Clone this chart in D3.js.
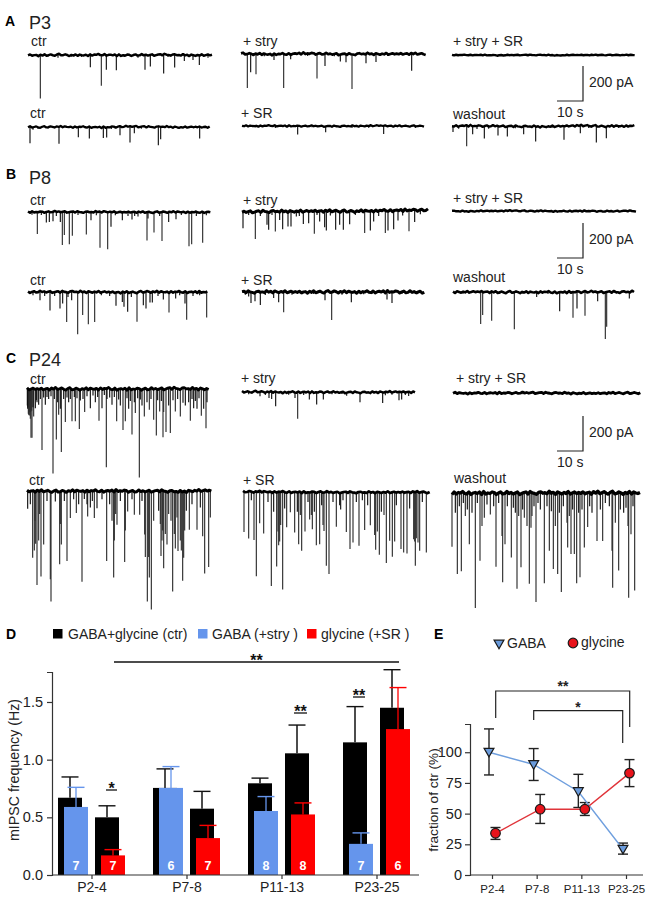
<!DOCTYPE html>
<html><head><meta charset="utf-8">
<script src="https://cdn.jsdelivr.net/npm/d3@7"></script>
<style>
html,body{margin:0;padding:0;background:#fff}
svg{display:block}
text{font-family:"Liberation Sans",Arial,sans-serif;fill:#222}
</style></head><body><svg id="fig" width="652" height="920"></svg>
<script>
// ---------- Panel D data ----------
const groups = ["P2-4","P7-8","P11-13","P23-25"];
const ctrStryMean = [0.67,0.755,0.795,1.15];
const ctrStryTop  = [0.85,0.92,0.84,1.46];
const stryMean    = [0.59,0.755,0.555,0.27];
const stryTop     = [0.76,0.94,0.68,0.365];
const ctrSrMean   = [0.50,0.575,1.055,1.45];
const ctrSrTop    = [0.60,0.725,1.30,1.78];
const srMean      = [0.17,0.32,0.525,1.265];
const srTop       = [0.22,0.43,0.625,1.625];
const stryN       = [7,6,8,7];
const srN         = [7,7,8,6];
// ---------- Panel E data ----------
const gabaFrac    = [100,90,68,21];
const gabaHi      = [119,103,82,26];
const gabaLo      = [81.5,77,55,17];
const glyFrac     = [34,53.6,53.6,83];
const glyHi       = [38.7,65.6,59,94];
const glyLo       = [29,42,48.5,72];
// ---------- Trace readings: [time, amplitude] in digitised chart readings ----------
const SECONDS_PER_READING = 10/78, PA_PER_READING = 200/106;
const A1=[[37,132],[187,37],[220,93],[235,45],[265,46],[351,45],[367,35],[407,56],[440,38],[469,18],[514,30],[90,8],[160,6],[330,8],[495,15],[540,8],[60,5],[130,5],[290,6],[420,6]];
const A2=[[6,49],[93,51],[151,31],[184,35],[226,33],[236,32],[276,25],[306,47],[319,19],[391,55],[398,37],[515,35],[30,6],[250,6],[450,5],[15,8],[60,5],[340,5]];
const A3=[[19,103],[29,55],[45,61],[128,103],[228,74],[252,36],[298,23],[315,25],[333,106],[375,28],[405,24],[512,51],[99,18],[149,16],[70,7],[200,6],[280,7],[440,6]];
const A4=[[167,26],[251,19],[425,24],[100,6],[330,6],[520,6],[40,4],[210,4],[380,5],[480,4]];
const A5=[[50,3],[150,3],[320,3],[420,3]];
const A6=[[3,18],[44,61],[62,25],[97,38],[138,29],[166,32],[215,25],[251,47],[336,42],[385,22],[433,50],[463,37],[20,8],[75,9],[110,8],[190,7],[300,6],[410,6],[500,6]];
const B1=[[28,67],[55,32],[64,30],[75,28],[97,30],[103,100],[109,70],[124,98],[133,72],[175,68],[189,25],[216,108],[239,113],[249,45],[283,25],[312,23],[357,86],[378,62],[402,88],[422,30],[444,22],[483,104],[491,98],[524,93],[320,12],[360,20],[12,8],[40,9],[85,12],[150,9],[205,10],[262,10],[300,12],[330,14],[395,12],[460,9],[505,12],[535,10]];
const B2=[[36,25],[66,56],[96,50],[104,35],[116,91],[131,25],[149,128],[164,70],[181,98],[200,91],[264,42],[283,30],[288,45],[299,60],[327,90],[346,40],[354,50],[366,32],[373,32],[406,23],[423,62],[443,20],[476,84],[471,35],[536,77],[15,10],[50,12],[80,12],[120,15],[220,10],[245,12],[310,15],[390,12],[455,10],[495,12],[515,10]];
const B3=[[3,52],[40,85],[75,42],[80,57],[100,62],[113,27],[122,55],[138,47],[147,47],[163,17],[184,39],[200,37],[217,69],[233,32],[248,49],[253,59],[281,57],[293,42],[304,57],[323,40],[368,67],[385,59],[395,32],[430,67],[438,59],[455,55],[468,29],[501,61],[518,33],[20,12],[55,15],[90,12],[172,15],[225,12],[265,14],[340,12],[410,15],[482,14],[535,10]];
const B4=[[27,33],[39,28],[55,39],[95,18],[110,31],[125,61],[249,25],[269,85],[328,31],[435,23],[450,33],[20,14],[180,7],[390,6],[10,8],[70,9],[150,8],[215,6],[300,8],[365,7],[480,6],[525,7]];
const B5=[[60,3],[170,3],[300,3],[380,4],[480,3]];
const B6=[[83,97],[89,70],[116,87],[184,113],[251,15],[320,58],[360,78],[372,50],[396,72],[434,28],[457,142],[461,105],[529,20],[30,5],[140,6],[210,5],[285,6],[490,5]];
const C1=[[2,60],[4,75],[7,80],[10,90],[12,148],[15,148],[5,78],[8,70],[20,83],[25,58],[35,48],[45,185],[55,48],[78,256],[88,153],[95,78],[103,191],[115,100],[135,98],[145,98],[157,121],[173,70],[190,58],[216,96],[225,58],[238,237],[255,48],[269,98],[288,124],[295,98],[315,138],[325,73],[337,268],[352,83],[367,63],[380,93],[388,141],[398,68],[408,146],[417,130],[430,133],[445,68],[460,83],[490,96],[500,58],[523,81],[537,119],[30,40],[65,30],[100,60],[125,40],[160,35],[205,40],[240,30],[280,50],[305,60],[345,50],[360,40],[410,70],[425,50],[475,50],[510,60],[530,60],[1,50],[3,55],[6,65],[9,62],[11,70],[14,66],[18,55],[28,34],[40,30],[50,26],[60,24],[72,22],[82,30],[92,40],[110,30],[120,26],[130,30],[142,24],[150,28],[168,30],[180,22],[198,20],[212,24],[232,18],[248,26],[262,24],[275,32],[300,28],[310,36],[322,40],[332,28],[340,32],[372,30],[392,34],[403,36],[438,34],[452,30],[468,42],[485,40],[495,30],[505,36],[516,28],[540,40]];
const C2=[[2,54],[17,202],[30,285],[42,259],[50,162],[72,335],[70,267],[85,32],[98,222],[103,162],[120,212],[130,82],[148,67],[165,275],[182,77],[202,82],[210,52],[239,212],[260,262],[270,102],[293,215],[302,62],[322,72],[338,72],[353,132],[361,335],[373,359],[367,262],[402,197],[410,234],[420,162],[437,304],[445,174],[453,182],[467,272],[470,202],[487,117],[510,117],[527,137],[533,250],[545,230],[550,80],[22,180],[26,160],[35,150],[100,100],[180,40],[190,50],[255,90],[262,150],[295,120],[355,200],[365,200],[405,150],[407,120],[415,130],[442,130],[460,150],[463,180],[473,120],[10,40],[24,90],[38,70],[60,30],[112,30],[140,25],[155,40],[172,24],[196,30],[225,25],[248,40],[266,70],[280,30],[315,25],[345,30],[380,90],[395,60],[400,100],[425,70],[432,90],[450,80],[478,60],[495,40],[520,50]];
const C3=[[101,43],[167,81],[81,18],[89,21],[202,23],[224,38],[244,23],[354,31],[422,33],[471,25],[479,23],[54,13],[159,18],[314,11],[430,10],[500,12],[20,7],[70,9],[120,7],[140,8],[185,9],[270,7],[300,6],[385,7],[450,8],[490,9]];
const C4=[[3,121],[17,141],[33,145],[40,255],[50,95],[62,126],[85,285],[101,226],[107,161],[119,295],[131,107],[142,61],[155,123],[167,158],[176,178],[186,120],[200,83],[208,113],[220,161],[230,158],[243,118],[250,223],[258,248],[280,105],[293,53],[310,121],[321,173],[330,153],[348,163],[365,115],[382,101],[398,175],[409,190],[423,70],[430,215],[440,148],[448,196],[455,150],[474,173],[482,183],[492,186],[512,143],[517,223],[525,153],[530,178],[550,183],[105,120],[110,150],[205,70],[240,100],[290,40],[395,130],[403,120],[515,150],[520,140],[25,25],[75,30],[92,60],[113,100],[125,50],[163,60],[172,70],[195,30],[214,60],[236,40],[270,30],[300,25],[340,30],[358,25],[374,40],[415,60],[460,40],[500,50],[538,30]];
const C5=[[70,3],[210,4],[380,4],[500,3],[140,3],[300,3],[440,3]];
const C6=[[0,163],[16,245],[28,237],[52,155],[70,348],[84,205],[97,75],[115,65],[132,223],[152,270],[159,155],[178,195],[195,290],[207,225],[217,75],[232,275],[237,105],[252,330],[277,273],[292,175],[304,230],[317,245],[328,300],[347,165],[357,185],[367,185],[374,273],[384,255],[397,165],[407,103],[435,145],[452,145],[482,287],[480,175],[500,235],[530,317],[537,125],[548,295],[10,60],[40,70],[60,60],[90,100],[150,130],[190,60],[225,100],[240,70],[265,50],[310,100],[345,90],[420,60],[445,50],[490,90],[515,60],[528,100],[22,40],[34,30],[46,50],[76,30],[105,35],[125,40],[140,30],[166,40],[184,45],[200,70],[212,50],[246,40],[258,30],[285,40],[298,55],[322,60],[334,40],[352,70],[362,50],[380,60],[390,50],[413,40],[460,30],[472,40],[505,50],[522,45],[543,40]];
const baselineRipple=[1,-2,2,0,-1,3,-2,1,-3,2,0,-2,1,3,-1,-3,2,1,-2,0,3,-1,1,-3,2,-2,0,1,-1,3,-2,2,-1,0,-3,1,2,-2,3,0,-1,1,-2,3,-3,2,0,1,-2,-1,3,0,-2,2,1,-3,1,-1,2,0,-2,3,1,-1,-2,2,-3,0,1,3,-1,-2,1,0,2,-3,1,-1,3,-2,0,2,-1,1,-3,2,0,-2,1,-1];
const rippleGain=[.9,.8,1,.7,.4,.9, .8,1,1.2,1.2,.6,1, 1.3,1.2,.9,.9,.8,1.5];
const traceDurations = [552,545,554,546,548,547,547,538,558,547,552,543,545,553,519,560,562,564];
const traceEvents = [A1,A2,A3,A4,A5,A6,B1,B2,B3,B4,B5,B6,C1,C2,C3,C4,C5,C6];
const traceDrift = [
 [0,1,-1,1,0,-1,1,0,0,-1,0,1,0],[0,0,-1,0,0,1,-1,-2,0,-1,1,0,0],[-1,0,1,0,-2,-1,0,1,-1,0,0,-1,0],
 [0,0,-1,0,0,0,1,0,0,-1,0,0,0],[0,0,0,1,0,0,0,1,0,0,0,0,0],[0,-1,0,0,1,1,2,1,-1,-1,1,0,0],
 [0,0,-1,0,0,-1,1,0,1,0,0,1,0],[0,-1,0,-1,0,0,1,1,-1,0,0,0,0],[2,2,1,1,1,0,0,1,0,-1,-2,-3,-3],
 [0,0,-1,0,0,0,-1,0,0,-1,-1,0,0],[0,1,0,0,-1,0,0,1,0,0,1,0,0],[0,0,-1,1,0,1,0,1,0,-1,0,0,-1],
 [0,0,-1,0,0,-1,0,0,0,-1,-2,-1,0],[0,0,1,0,0,0,-1,1,0,0,2,-1,-1],[0,-1,0,1,0,1,0,1,1,1,0,0,0],
 [-1,-1,0,0,1,0,1,1,1,1,1,0,1],[0,1,0,0,0,-1,0,0,1,1,0,0,0],[0,0,0,0,0,0,-1,0,0,-1,-1,0,0]];
const traceTexts = [
 "ctr","ctr","+ stry","+ SR","+ stry + SR","washout",
 "ctr","ctr","+ stry","+ SR","+ stry + SR","washout",
 "ctr","ctr","+ stry","+ SR","+ stry + SR","washout"];
// ---------- Layout and style (no data) ----------
const traceLeft = [28,28,241,242,452,452, 28,28,242,242,452,453, 27,27,242,243,453,452];
const traceBase = [55,127,54,126,55,126, 212,292,211,292,211,292, 389,491,392,492,393,493];
const traceWidth= [2.5,2.3,2.7,2.3,2.4,2.4, 2.5,2.6,3,3,2.4,2.6, 2.8,3,2.5,2.7,2.8,3.3];
const traceTextX= [31,30,243,241,453,453, 30,30,243,241,453,453, 30,29,241,243,456,454];
const traceTextY= [46,118,46,118,46,119, 205,285,205,285,203,282, 384,485,383,485,383,483];
const ptLabels = [["A",5,26,"P3",29,29],["B",6,179,"P8",29,184],["C",6,363,"P24",29,366]];
const scaleBarY = [66,223,416];
const scaleBarSec = 10, scaleBarPA = 200;

const svg = d3.select("#fig");
const tScale = d3.scaleLinear().domain([0,10]).range([0,26]);
const aScale = d3.scaleLinear().domain([0,200]).range([0,35]);

function txt(g,s,x,y,size,opt={}){
  return g.append("text").attr("x",x).attr("y",y).attr("font-size",size)
    .attr("font-weight",opt.bold?"bold":null).attr("text-anchor",opt.anchor||"start")
    .attr("transform",opt.rot?`rotate(-90 ${x} ${y})`:null).style("fill",opt.fill||null).text(s);
}

// ---------- Traces ----------
const traces = svg.append("g");
traceEvents.forEach((ev,i)=>{
  const g = traces.append("g").attr("transform",`translate(${traceLeft[i]},${traceBase[i]})`);
  const dur = traceDurations[i], drift = traceDrift[i];
  const px = r => tScale(r*SECONDS_PER_READING), py = r => aScale(r*PA_PER_READING);
  g.selectAll("line").data(ev).join("line")
    .attr("x1",d=>px(d[0])).attr("x2",d=>px(d[0]))
    .attr("y1",0).attr("y2",d=>py(d[1]))
    .attr("stroke",d=>d[1]>60?"#2e2e2e":"#111").attr("stroke-width",1.15);
  const driftAt = d3.scaleLinear().domain(drift.map((d,k)=>k*dur/(drift.length-1))).range(drift);
  const pts = baselineRipple.map((r,k)=>{
    const t = k*dur/(baselineRipple.length-1);
    const ripple = baselineRipple[(k+i*7)%baselineRipple.length]*rippleGain[i];
    return [t, driftAt(t)+ripple];
  });
  const line = d3.line().x(d=>px(d[0])).y(d=>py(d[1]));
  g.append("path").attr("d",line(pts)).attr("fill","none").attr("stroke","#000")
    .attr("stroke-width",traceWidth[i]).attr("stroke-linejoin","round");
  txt(svg,traceTexts[i],traceTextX[i],traceTextY[i],14);
});
ptLabels.forEach(l=>{ txt(svg,l[0],l[1],l[2],14,{bold:true}).style("fill","#000"); txt(svg,l[3],l[4],l[5],18); });
scaleBarY.forEach(y=>{
  const x=583, h=aScale(scaleBarPA), w=tScale(scaleBarSec);
  svg.append("path").attr("d",d3.line()([[x,y],[x,y+h],[x-w,y+h]])).attr("fill","none").attr("stroke","#222").attr("stroke-width",1.2);
  txt(svg,scaleBarPA+" pA",589,y+21,14);
  txt(svg,scaleBarSec+" s",557,y+51,14);
});

// ---------- Panel D ----------
const COL_BLUE="#6595ec", COL_RED="#fe0000";
const x = d3.scaleBand().domain(groups).range([44.5,424.5]);
const y = d3.scaleLinear().domain([0,1.76]).range([875,672]);
const slot = d3.scaleOrdinal().domain(["a","b","c","d"]).range([-34,-28,3,9]);
const barW = 24;
const gx = g => x(g)+x.bandwidth()/2;
const series = [
 {slot:"a",mean:ctrStryMean,top:ctrStryTop,color:"#000"},
 {slot:"b",mean:stryMean,top:stryTop,color:COL_BLUE,n:stryN},
 {slot:"c",mean:ctrSrMean,top:ctrSrTop,color:"#000"},
 {slot:"d",mean:srMean,top:srTop,color:COL_RED,n:srN}];
const D = svg.append("g");
series.forEach(s=>{
  const sg=D.append("g");
  const rows=groups.map((g,i)=>({g,m:s.mean[i],t:s.top[i],n:s.n?s.n[i]:null}));
  const bx=d=>gx(d.g)+slot(s.slot);
  sg.selectAll("rect").data(rows).join("rect")
    .attr("x",bx).attr("width",barW).attr("y",d=>y(d.m)).attr("height",d=>y(0)-y(d.m)).attr("fill",s.color);
  sg.selectAll("line.e").data(rows).join("line").attr("class","e")
    .attr("x1",d=>bx(d)+barW/2).attr("x2",d=>bx(d)+barW/2).attr("y1",d=>y(d.m)).attr("y2",d=>y(d.t))
    .attr("stroke",s.color==="#000"?"#111":s.color).attr("stroke-width",s.color==="#000"?1.5:1.3);
  sg.selectAll("line.c").data(rows).join("line").attr("class","c")
    .attr("x1",d=>bx(d)+barW/2-8.5).attr("x2",d=>bx(d)+barW/2+8.5).attr("y1",d=>y(d.t)).attr("y2",d=>y(d.t))
    .attr("stroke",s.color==="#000"?"#111":s.color).attr("stroke-width",1.4);
  if(s.n) sg.selectAll("text").data(rows).join("text")
    .attr("x",d=>bx(d)+barW/2).attr("y",870).attr("text-anchor","middle")
    .attr("font-size",12.5).attr("font-weight","bold").style("fill","#fff").text(d=>d.n);
});
const axD = D.append("g").attr("transform","translate(52,0)")
  .call(d3.axisLeft(y).tickValues([0,0.5,1,1.5]).tickFormat(d3.format(".1f")).tickSizeOuter(0).tickSize(5));
axD.selectAll("text").attr("font-size",14.5).attr("dx",-1);
const axDx = D.append("g").attr("transform","translate(0,875)")
  .call(d3.axisBottom(x).tickSizeOuter(0).tickSize(4));
axDx.select(".domain").attr("d","M52,0H419");
axDx.selectAll("text").attr("font-size",14).attr("dy",9.5);
[axD,axDx].forEach(a=>{a.attr("font-family",null);a.selectAll("path,line").attr("stroke","#333").attr("stroke-width",1.2);a.selectAll("text").style("fill","#222");});
txt(svg,"mIPSC frequency (Hz)",19,770,14.2,{rot:true,anchor:"middle"});
txt(svg,"D",6,639,14,{bold:true}).style("fill","#000");
[["#000",53,"GABA+glycine (ctr)",68],[COL_BLUE,198,"GABA (+stry )",212],[COL_RED,307,"glycine (+SR )",321]].forEach(l=>{
  svg.append("rect").attr("x",l[1]).attr("y",629).attr("width",9.5).attr("height",9.5).attr("fill",l[0]);
  txt(svg,l[2],l[3],638.5,14);
});
function sigLine(x1,x2,yy,label){
  svg.append("line").attr("x1",x1).attr("x2",x2).attr("y1",yy).attr("y2",yy).attr("stroke","#111").attr("stroke-width",1.3);
  txt(svg,label,(x1+x2)/2,yy+3.5,16,{bold:true,anchor:"middle"}).style("fill","#111");
}
sigLine(106,117,790,"*"); sigLine(294,307,713,"**"); sigLine(353,365,697,"**"); sigLine(114,399,662,"**");

// ---------- Panel E ----------
const ex = d3.scalePoint().domain(groups).range([492,626]);
const ey = d3.scaleLinear().domain([0,123]).range([875,724]);
const E = svg.append("g");
const axE = E.append("g").attr("transform","translate(470,0)")
  .call(d3.axisLeft(ey).tickValues([0,25,50,75,100]).tickSizeOuter(0).tickSize(5));
axE.selectAll("text").attr("font-size",14.5);
const axEx = E.append("g").attr("transform","translate(0,875)")
  .call(d3.axisBottom(ex).tickSizeOuter(0).tickSize(4));
axEx.select(".domain").attr("d","M470,0H643");
axEx.selectAll("text").attr("font-size",11.5).attr("dy",10.5);
[axE,axEx].forEach(a=>{a.attr("font-family",null);a.selectAll("path,line").attr("stroke","#333").attr("stroke-width",1.2);a.selectAll("text").style("fill","#222");});
txt(svg,"fraction of ctr (%)",438,800,13.6,{rot:true,anchor:"middle"});
txt(svg,"E",434,639,14,{bold:true}).style("fill","#000");
function whisker(vals,hi,lo,dx){
  const g=E.append("g").attr("stroke","#222").attr("stroke-width",1.4);
  groups.forEach((k,i)=>{
    const cx=ex(k)+dx;
    g.append("line").attr("x1",cx).attr("x2",cx).attr("y1",ey(hi[i])).attr("y2",ey(lo[i]));
    [hi[i],lo[i]].forEach(v=>g.append("line").attr("x1",cx-5).attr("x2",cx+5).attr("y1",ey(v)).attr("y2",ey(v)));
  });
}
const triUp = d3.symbol().type(d3.symbolTriangle).size(42)();
function tri(g,cx,cy){ g.append("path").attr("d",triUp).attr("transform",`translate(${cx},${cy}) rotate(180)`).attr("fill","#6a9bdc").attr("stroke","#1a1a1a").attr("stroke-width",1.2); }
function dot(g,cx,cy){ g.append("circle").attr("cx",cx).attr("cy",cy).attr("r",4.8).attr("fill","#e8131b").attr("stroke","#1a1a1a").attr("stroke-width",1.2); }
const GD=-3, RD=3.5;
whisker(gabaFrac,gabaHi,gabaLo,GD); whisker(glyFrac,glyHi,glyLo,RD);
E.append("path").attr("d",d3.line().x((d,i)=>ex(groups[i])+GD).y(d=>ey(d))(gabaFrac)).attr("fill","none").attr("stroke","#6f9fde").attr("stroke-width",1.4);
E.append("path").attr("d",d3.line().x((d,i)=>ex(groups[i])+RD).y(d=>ey(d))(glyFrac)).attr("fill","none").attr("stroke","#e0343a").attr("stroke-width",1.4);
gabaFrac.forEach((v,i)=>tri(E,ex(groups[i])+GD,ey(v)-1));
glyFrac.forEach((v,i)=>dot(E,ex(groups[i])+RD,ey(v)));
tri(svg,499,643); txt(svg,"GABA",507,648,14);
dot(svg,573,643); txt(svg,"glycine",581,647,14);
function bracket(x1,x2,yy,y1,y2,label,lx,ly){
  svg.append("path").attr("d",d3.line()([[x1,y1],[x1,yy],[x2,yy],[x2,y2]])).attr("fill","none").attr("stroke","#222").attr("stroke-width",1.2);
  txt(svg,label,lx,ly,14,{bold:true,anchor:"middle"}).style("fill","#222");
}
bracket(495.7,629.7,691,718,727,"**",563,691);
bracket(533.7,622.7,710.7,720,743,"*",578,712);
</script></body></html>
